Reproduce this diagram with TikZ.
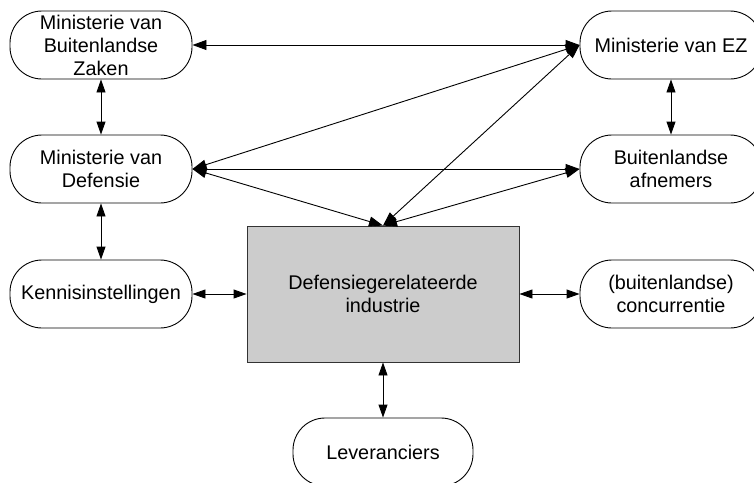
\documentclass[tikz,border=0pt]{standalone}
\usepackage{fontspec}
\setmainfont{Liberation Sans}
\usetikzlibrary{arrows.meta}
\begin{document}
\begin{tikzpicture}[x=1pt,y=-1pt,
  actor/.style={draw, line width=0.9pt, rounded corners=32pt, minimum width=182pt, minimum height=68pt,
    inner sep=0pt, align=center, font=\fontsize{19.8}{23}\selectfont},
  central/.style={draw=black!80, line width=0.9pt, fill=black!20, minimum width=272pt, minimum height=136pt,
    inner sep=0pt, align=center, font=\fontsize{19.8}{23}\selectfont},
  link/.style={line width=0.9pt, {Triangle[length=14pt,width=10pt]}-{Triangle[length=14pt,width=10pt]}},
  vlink/.style={line width=0.9pt, {Triangle[length=13pt,width=9pt]}-{Triangle[length=13pt,width=9pt]}}
]
\useasboundingbox (0,0) rectangle (754,482);
\clip (0,0) rectangle (754,482);
\node[actor] (buza) at (101,45) {Ministerie van\\Buitenlandse\\Zaken};
\node[actor] (def) at (101,169) {Ministerie van\\Defensie};
\node[actor] (ken) at (101,294) {Kennisinstellingen};
\node[actor] (ez) at (671,45) {Ministerie van EZ};
\node[actor] (afn) at (671,169) {Buitenlandse\\afnemers};
\node[actor] (conc) at (671,294) {(buitenlandse)\\concurrentie};
\node[actor, minimum width=180pt] (lev) at (383,452) {Leveranciers};
\node[central] (ind) at (383,294) {Defensiegerelateerde\\industrie};

\draw[link] (buza.east) -- (ez.west);
\draw[link] (def.east) -- (afn.west);
\draw[link] (def.east) -- (ez.west);
\draw[link] (def.east) -- (ind.north);
\draw[link] (ez.west) -- (ind.north);
\draw[link] (afn.west) -- (ind.north);
\draw[vlink] (buza.south) -- (def.north);
\draw[vlink] (def.south) -- (ken.north);
\draw[vlink] (ez.south) -- (afn.north);
\draw[vlink] (ind.south) -- (lev.north);
\draw[vlink] (ken.east) -- (ind.west);
\draw[vlink] (ind.east) -- (conc.west);
\end{tikzpicture}
\end{document}
